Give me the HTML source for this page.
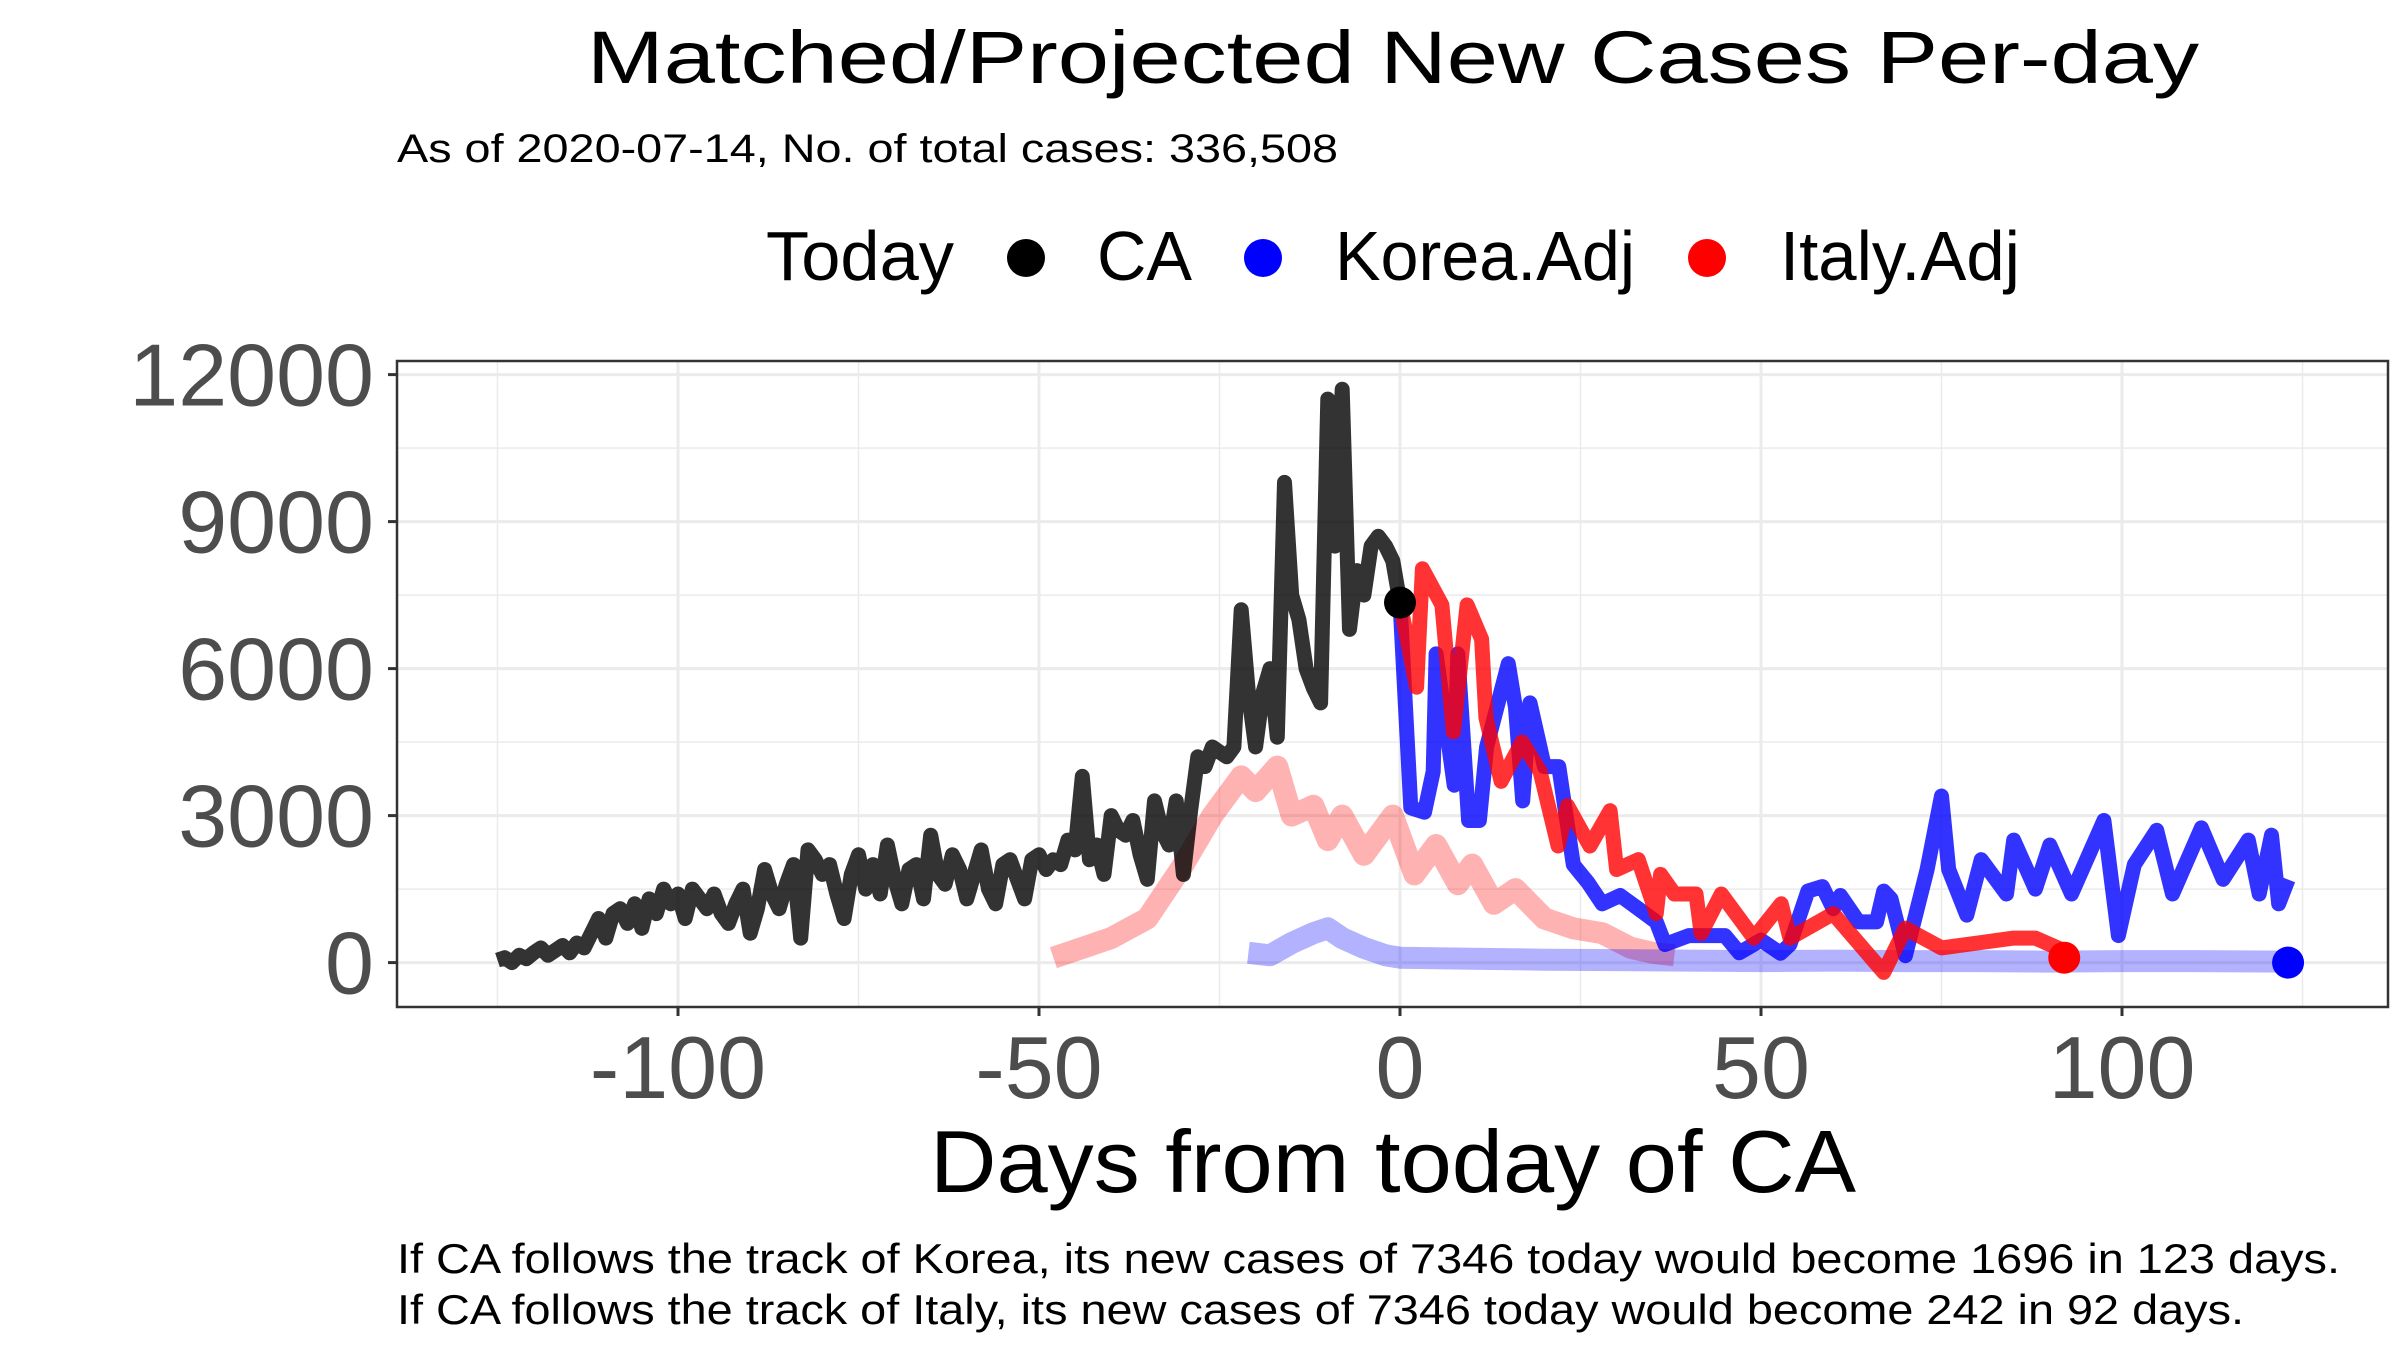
<!DOCTYPE html>
<html><head><meta charset="utf-8"><style>
html,body{margin:0;padding:0;background:#fff;}
svg{display:block;font-family:"Liberation Sans",Arial,sans-serif;}
</style></head><body>
<svg id="chart" width="2400" height="1350" viewBox="0 0 2400 1350" xmlns="http://www.w3.org/2000/svg">
<rect x="0" y="0" width="2400" height="1350" fill="#fff"/>
<text x="1393" y="83" font-size="74" text-anchor="middle" textLength="1612" lengthAdjust="spacingAndGlyphs">Matched/Projected New Cases Per-day</text>
<text x="397" y="162" font-size="40" textLength="941" lengthAdjust="spacingAndGlyphs">As of 2020-07-14, No. of total cases: 336,508</text>
<g>
<text x="766" y="280" font-size="70" textLength="188" lengthAdjust="spacingAndGlyphs">Today</text>
<g>
<circle cx="1026" cy="258" r="19" fill="#000"/>
<text x="1097" y="280" font-size="70" textLength="95" lengthAdjust="spacingAndGlyphs">CA</text></g>
<g>
<circle cx="1263" cy="258" r="19" fill="#0000ff"/>
<text x="1335" y="280" font-size="70" textLength="300" lengthAdjust="spacingAndGlyphs">Korea.Adj</text></g>
<g>
<circle cx="1707" cy="258" r="19" fill="#ff0000"/>
<text x="1780" y="280" font-size="70" textLength="240" lengthAdjust="spacingAndGlyphs">Italy.Adj</text></g>
</g>
<g id="grid"></g>
<g id="plot"></g>
<rect x="397" y="361" width="1991" height="646" fill="none" stroke="#333" stroke-width="2.5"/>
<g id="axes"></g>
<text x="1393" y="1192" font-size="88" text-anchor="middle" textLength="926" lengthAdjust="spacingAndGlyphs">Days from today of CA</text>
<text x="397" y="1273" font-size="42" textLength="1943" lengthAdjust="spacingAndGlyphs">If CA follows the track of Korea, its new cases of 7346 today would become 1696 in 123 days.</text>
<text x="397" y="1324" font-size="42" textLength="1847" lengthAdjust="spacingAndGlyphs">If CA follows the track of Italy, its new cases of 7346 today would become 242 in 92 days.</text>
</svg>
<script>
const xTicks=[-100,-50,0,50,100];
const xMinor=[-125,-75,-25,25,75,125];
const yTicks=[0,3000,6000,9000,12000];
const yMinor=[1500,4500,7500,10500];
const caStart=-125;
const caValues=[50,100,0,150,80,200,300,150,250,350,200,400,300,600,900,500,1000,1100,800,1200,700,1300,1000,1500,1200,
1400,900,1500,1300,1100,1400,1000,800,1200,1500,600,1100,1900,1400,1100,1600,2000,500,2300,2100,1800,2000,1400,900,1800,
2200,1500,2000,1400,2400,1700,1200,1900,2000,1300,2600,1800,1600,2200,1900,1300,1800,2300,1500,1200,2000,2100,1700,1300,2100,
2200,1900,2100,2000,2500,2300,3800,2100,2400,1800,3000,2700,2600,2900,2200,1700,3300,2700,2400,3300,1800,3100,4200,4000,4400,
4300,4200,4400,7200,5500,4400,5500,6000,4600,9800,7500,7000,6000,5600,5300,11500,8500,11700,6800,8000,7500,8500,8700,8500,8200,7346];
const italyRawDays=[-48,-44,-40,-35,-30,-26,-22,-20,-17,-15,-12,-10,-8,-5,-1,2,5,8,10,13,16,20,24,28,32,35,38];
const italyRawValues=[100,300,500,900,2000,3000,3800,3500,4000,3000,3200,2500,3000,2200,3000,1800,2400,1600,2000,1200,1500,900,700,600,300,200,150];
const koreaRawDays=[-21,-18,-15,-12,-10,-8,-5,-2,0,10,20,30,40,50,60,70,80,90,100,110,123];
const koreaRawValues=[200,150,400,600,700,500,300,150,100,80,60,50,40,30,40,30,30,20,30,30,20];
const italyDays=[0,2.3,3.1,5.8,7.4,9.3,11.3,11.9,14,16.9,19.4,21.9,23.2,26.3,29.1,30,33,35.5,36.1,38,41,41.7,44.5,49,52.8,54,60,67,70,75,80,85,88,92];
const italyValues=[7346,5620,8036,7300,4710,7300,6600,5000,3700,4500,3900,2380,3200,2380,3100,1900,2100,1000,1800,1400,1400,600,1400,500,1200,500,1000,-200,700,300,400,500,500,242];
const koreaDays=[0,1.5,3.4,4.6,5,7.5,8,9.5,11,12,15,16,17,18,20,22,24,26,28,30.5,33,35.5,36.7,40,45,47,50,52.7,54,56.5,58.5,60,61,63.5,66,67,68,70,73,75,76,78.5,80.5,84,85,88,90,93,97.5,99.5,101.7,104.8,107,111,114,117.5,119,120.7,121.7,123];
const koreaValues=[7346,3160,3070,3900,6300,3620,6300,2900,2900,4400,6100,5200,3300,5300,4000,4000,2000,1640,1200,1370,1100,830,370,550,550,200,460,190,370,1460,1550,1100,1370,830,830,1460,1300,140,1900,3400,1900,970,2100,1400,2500,1500,2400,1400,2900,550,2000,2700,1400,2750,1700,2500,1400,2600,1200,1696];
const todayPoint=[0,7346];
const italyEnd=[92,100];
const koreaEnd=[123,0];

const NS='http://www.w3.org/2000/svg';
const X0=397,X1=2388,Y0=361,Y1=1007;
function sx(d){return 1400+d*7.22;}
function sy(v){return 962.6-v*0.049;}
function mk(tag,attrs,parent){const e=document.createElementNS(NS,tag);for(const k in attrs)e.setAttribute(k,attrs[k]);parent.appendChild(e);return e;}
const grid=document.getElementById('grid'),plot=document.getElementById('plot'),axes=document.getElementById('axes');
xMinor.forEach(d=>{const l=mk('line',{x1:sx(d),x2:sx(d),y1:Y0,y2:Y1,stroke:'#ebebeb','stroke-width':1.5},grid);

});
yMinor.forEach(v=>{const l=mk('line',{x1:X0,x2:X1,y1:sy(v),y2:sy(v),stroke:'#ebebeb','stroke-width':1.5},grid);

});
xTicks.forEach(d=>{const l=mk('line',{x1:sx(d),x2:sx(d),y1:Y0,y2:Y1,stroke:'#ebebeb','stroke-width':3},grid);


const t=mk('line',{x1:sx(d),x2:sx(d),y1:Y1,y2:Y1+9,stroke:'#333','stroke-width':3},axes);


const tx=mk('text',{x:sx(d),y:1098,'font-size':88,'text-anchor':'middle',fill:'#4d4d4d'},axes);tx.textContent=String(d);

});
yTicks.forEach(v=>{const l=mk('line',{x1:X0,x2:X1,y1:sy(v),y2:sy(v),stroke:'#ebebeb','stroke-width':3},grid);


const t=mk('line',{x1:X0-9,x2:X0,y1:sy(v),y2:sy(v),stroke:'#333','stroke-width':3},axes);


const tx=mk('text',{x:374,y:sy(v)+31,'font-size':88,'text-anchor':'end',fill:'#4d4d4d'},axes);tx.textContent=v;

});
function line(days,vals,color,w,name){const pts=days.map((d,i)=>sx(d).toFixed(1)+','+sy(vals[i]).toFixed(1)).join(' ');
const p=mk('polyline',{points:pts,fill:'none',stroke:color,'stroke-width':w,'stroke-linejoin':'round','stroke-linecap':'butt'},plot);

}
line(italyRawDays,italyRawValues,'rgba(255,0,0,0.3)',22,'italy-raw-line');
line(koreaRawDays,koreaRawValues,'rgba(0,0,255,0.3)',22,'korea-raw-line');
line(caValues.map((v,i)=>caStart+i),caValues,'rgba(0,0,0,0.8)',15,'ca-line');
line(koreaDays,koreaValues,'rgba(0,0,255,0.8)',15,'korea-adj-line');
line(italyDays,italyValues,'rgba(255,0,0,0.8)',15,'italy-adj-line');
function dot(p,c,name){const e=mk('circle',{cx:sx(p[0]),cy:sy(p[1]),r:16,fill:c},plot);

}
dot(todayPoint,'#000','ca-today-point');
dot(italyEnd,'#ff0000','italy-end-point');
dot(koreaEnd,'#0000ff','korea-end-point');
</script>
</body></html>
